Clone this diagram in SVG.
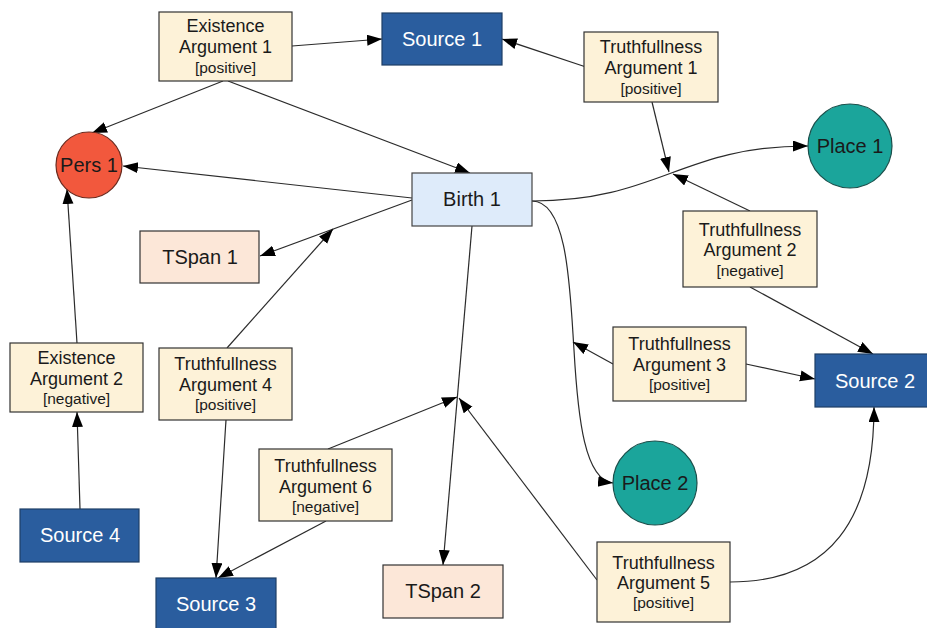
<svg xmlns="http://www.w3.org/2000/svg" width="927" height="628" viewBox="0 0 927 628">
<style>
.edge{fill:none;stroke:#2b2b2b;stroke-width:1.2;marker-end:url(#ah)}
.arg rect{fill:#fdf2d8;stroke:#333;stroke-width:1.2}
.src rect{fill:#2a5d9e;stroke:#1f3f66;stroke-width:1.2}
.tspan rect{fill:#fce7d8;stroke:#333;stroke-width:1.2}
.ev rect{fill:#deebfa;stroke:#444;stroke-width:1.2}
text{font-family:"Liberation Sans",Arial,sans-serif;text-anchor:middle;dominant-baseline:central;fill:#1a1a1a}
.big{font-size:20px}
.t18{font-size:18px}
.t16{font-size:15.5px}
.src text{fill:#ffffff}
</style>
<defs>
<marker id="ah" markerUnits="userSpaceOnUse" markerWidth="16" markerHeight="12" refX="15" refY="5.5" orient="auto">
<path d="M0,0 L15,5.5 L0,11 z" fill="#000"/>
</marker>
</defs>
<rect width="927" height="628" fill="#ffffff"/>
<g id="connectors">
<path class="edge" d="M292,46 L382,39"/>
<path class="edge" d="M223,81 L92,133"/>
<path class="edge" d="M228,81 L470,173"/>
<path class="edge" d="M412,198 L123,166"/>
<path class="edge" d="M412,200 L260,256"/>
<path class="edge" d="M227,348 L333,229"/>
<path class="edge" d="M532,201 C660,201 680,146 808,146"/>
<path class="edge" d="M652,102 L669,172"/>
<path class="edge" d="M750,211 L673,174"/>
<path class="edge" d="M532,201 C568,201 570,290 574,350 C578,420 585,480 613,483"/>
<path class="edge" d="M613,364 L573,342"/>
<path class="edge" d="M746,364 L815,379"/>
<path class="edge" d="M750,287 L873,354"/>
<path class="edge" d="M586,67 L502,39"/>
<path class="edge" d="M77,343 L67,189"/>
<path class="edge" d="M80,509 L77,412"/>
<path class="edge" d="M472,226 L443,565"/>
<path class="edge" d="M226,420 L216,578"/>
<path class="edge" d="M326,521 L218,578"/>
<path class="edge" d="M328,449 L457,397"/>
<path class="edge" d="M597,580 L459,398"/>
<path class="edge" d="M730,582 C830,582 874,520 874,407"/>
</g>
<g id="existence-argument-1" class="arg">
<rect x="159" y="12" width="133" height="69"/>
<text class="t18" x="225.5" y="26">Existence</text>
<text class="t18" x="225.5" y="47">Argument 1</text>
<text class="t16" x="225.5" y="67">[positive]</text>
</g>
<g id="source-1" class="src">
<rect x="382" y="13" width="120" height="52"/>
<text class="big" x="442" y="39">Source 1</text>
</g>
<g id="truthfullness-argument-1" class="arg">
<rect x="584" y="32" width="134" height="70"/>
<text class="t18" x="651" y="47">Truthfullness</text>
<text class="t18" x="651" y="68">Argument 1</text>
<text class="t16" x="651" y="88">[positive]</text>
</g>
<g id="place-1">
<circle cx="850" cy="146" r="42" fill="#1ba59b" stroke="#1b4f4b" stroke-width="1.2"/>
<text class="big" x="850" y="146">Place 1</text>
</g>
<g id="pers-1">
<circle cx="89" cy="165" r="33" fill="#f2583d" stroke="#6b2a1e" stroke-width="1.2"/>
<text class="big" x="89" y="165">Pers 1</text>
</g>
<g id="birth-1" class="ev">
<rect x="412" y="173" width="120" height="53"/>
<text class="big" x="472" y="199">Birth 1</text>
</g>
<g id="tspan-1" class="tspan">
<rect x="140" y="231" width="119" height="52"/>
<text class="big" x="200" y="257">TSpan 1</text>
</g>
<g id="truthfullness-argument-2" class="arg">
<rect x="683" y="211" width="134" height="76"/>
<text class="t18" x="750" y="230">Truthfullness</text>
<text class="t18" x="750" y="250">Argument 2</text>
<text class="t16" x="750" y="270">[negative]</text>
</g>
<g id="truthfullness-argument-3" class="arg">
<rect x="613" y="327" width="133" height="74"/>
<text class="t18" x="679.5" y="344">Truthfullness</text>
<text class="t18" x="679.5" y="365">Argument 3</text>
<text class="t16" x="679.5" y="384">[positive]</text>
</g>
<g id="source-2" class="src">
<rect x="815" y="354" width="120" height="53"/>
<text class="big" x="875" y="381">Source 2</text>
</g>
<g id="existence-argument-2" class="arg">
<rect x="10" y="343" width="133" height="69"/>
<text class="t18" x="76.5" y="358">Existence</text>
<text class="t18" x="76.5" y="379">Argument 2</text>
<text class="t16" x="76.5" y="398">[negative]</text>
</g>
<g id="truthfullness-argument-4" class="arg">
<rect x="159" y="348" width="133" height="72"/>
<text class="t18" x="225.5" y="364">Truthfullness</text>
<text class="t18" x="225.5" y="385">Argument 4</text>
<text class="t16" x="225.5" y="404">[positive]</text>
</g>
<g id="truthfullness-argument-6" class="arg">
<rect x="259" y="449" width="133" height="72"/>
<text class="t18" x="325.5" y="466">Truthfullness</text>
<text class="t18" x="325.5" y="487">Argument 6</text>
<text class="t16" x="325.5" y="506">[negative]</text>
</g>
<g id="place-2">
<circle cx="655" cy="483" r="42" fill="#1ba59b" stroke="#1b4f4b" stroke-width="1.2"/>
<text class="big" x="655" y="483">Place 2</text>
</g>
<g id="source-4" class="src">
<rect x="20" y="509" width="119" height="53"/>
<text class="big" x="80" y="535">Source 4</text>
</g>
<g id="truthfullness-argument-5" class="arg">
<rect x="597" y="542" width="133" height="80"/>
<text class="t18" x="663.5" y="563">Truthfullness</text>
<text class="t18" x="663.5" y="583">Argument 5</text>
<text class="t16" x="663.5" y="602">[positive]</text>
</g>
<g id="tspan-2" class="tspan">
<rect x="383" y="565" width="120" height="53"/>
<text class="big" x="443" y="591">TSpan 2</text>
</g>
<g id="source-3" class="src">
<rect x="156" y="578" width="120" height="53"/>
<text class="big" x="216" y="604">Source 3</text>
</g>
</svg>
